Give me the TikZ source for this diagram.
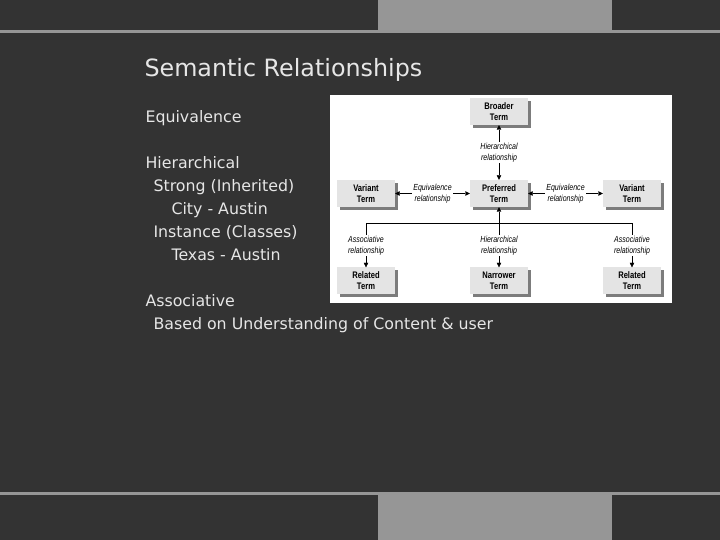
\documentclass[tikz,border=0pt]{standalone}
\usepackage{fontspec}
\setmainfont{DejaVu Sans}
\newfontfamily\diagfont[FakeStretch=0.8]{Liberation Sans}
\usetikzlibrary{shapes,arrows.meta,shadows}
\definecolor{slidebg}{HTML}{333333}
\definecolor{bandgray}{HTML}{969696}
\definecolor{slidetext}{HTML}{E6E6E6}
\definecolor{termfill}{HTML}{E4E4E4}
\definecolor{termshadow}{HTML}{7C7C7C}
\begin{document}
\begin{tikzpicture}[x=1pt, y=1pt, >={Triangle[length=4.5pt,width=4.5pt]}]
    \tikzset{term/.style={fill=termfill, minimum width=58pt, minimum height=27pt, inner sep=1pt,
        align=center, font={\diagfont\bfseries\fontsize{9.5pt}{11pt}\selectfont},
        drop shadow={shadow xshift=3pt, shadow yshift=-3pt, fill=termshadow, opacity=1}}}
    \tikzset{rel/.style={fill=white, inner sep=1pt, align=center, anchor=center,
        font={\diagfont\itshape\fontsize{8.8pt}{11pt}\selectfont}}}
    \tikzset{line/.style={text=slidetext, anchor=base west, font={\fontsize{15.8pt}{18pt}\selectfont}}}
    % slide background and bands
    \fill[slidebg] (0,0) rectangle (720,540);
    \fill[bandgray] (0,507) rectangle (720,510);
    \fill[bandgray] (378,507) rectangle (612,540);
    \fill[bandgray] (0,45) rectangle (720,48);
    \fill[bandgray] (378,0) rectangle (612,48);
    \useasboundingbox (0,0) rectangle (720,540);
    % slide text
    \node [text=slidetext, anchor=base west, font={\fontsize{23.8pt}{27pt}\selectfont}] (title) at (141,463) {Semantic Relationships};
    \node [line] (equi) at (142,417) {Equivalence};
    \node [line] (hier) at (142,371) {Hierarchical};
    \node [line] (strong) at (150,348) {Strong (Inherited)};
    \node [line] (city) at (168,325) {City - Austin};
    \node [line] (inst) at (150,302) {Instance (Classes)};
    \node [line] (texas) at (168,279) {Texas - Austin};
    \node [line] (asso) at (142,233) {Associative};
    \node [line] (based) at (150,210) {Based on Understanding of Content \& user};
    % thesaurus figure
    \fill[white] (330,237) rectangle (672,445);
    \node [term] (pref) at (499,346.5) {Preferred\\Term};
    \node [term, above of=pref, node distance=82pt] (broad) {Broader\\Term};
    \node [term, left of=pref, node distance=133pt] (varl) {Variant\\Term};
    \node [term, right of=pref, node distance=133pt] (varr) {Variant\\Term};
    \node [term, below of=pref, node distance=87.5pt] (narr) {Narrower\\Term};
    \node [term, below of=varl, node distance=87.5pt] (rell) {Related\\Term};
    \node [term, below of=varr, node distance=87.5pt] (relr) {Related\\Term};
    \coordinate [below of=pref, node distance=30pt] (bus);
    \draw [<->] (broad) -- node[rel] {Hierarchical\\relationship} (pref);
    \draw [<->] (varl) -- node[rel] {Equivalence\\relationship} (pref);
    \draw [<->] (pref) -- node[rel] {Equivalence\\relationship} (varr);
    \draw [->] (bus) -- (pref);
    \draw (rell |- bus) -- (relr |- bus);
    \draw [->] (rell |- bus) -- node[rel] {Associative\\relationship} (rell);
    \draw [->] (relr |- bus) -- node[rel] {Associative\\relationship} (relr);
    \draw [->] (bus) -- node[rel] {Hierarchical\\relationship} (narr);
\end{tikzpicture}
\end{document}
